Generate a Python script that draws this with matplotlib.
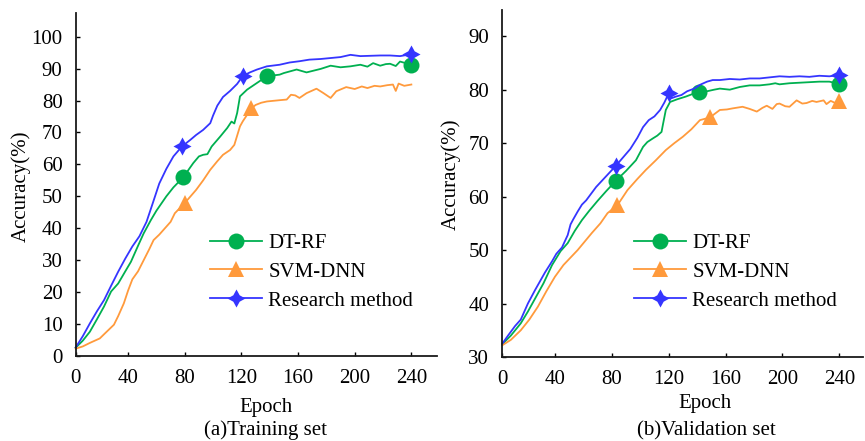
import matplotlib

matplotlib.use("Agg")
import matplotlib.pyplot as plt

plt.rcParams["font.family"] = ["Liberation Serif", "DejaVu Serif"]
plt.rcParams["font.size"] = 15

GREEN = "#00B050"
ORANGE = "#FF9A3C"
BLUE = "#3535FF"

SERIES_NAMES = ["DT-RF", "SVM-DNN", "Research method"]
X_TICK_LABELS = ["0", "40", "80", "120", "160", "200", "240"]

# (a) training set
TR_DTRF_EPOCH = [3, 8, 13, 18, 23, 28, 33, 38, 42, 47, 51, 56, 60, 67, 72, 79, 86, 90, 93, 96,
                 99, 105, 110, 113, 115, 117, 119, 124, 131, 138, 147, 150, 159, 166, 176, 183,
                 190, 197, 204, 209, 213, 218, 222, 225, 229, 232, 236, 240]
TR_DTRF_ACC = [2.6, 4.8, 7.6, 11.5, 15.5, 20.2, 22.7, 26.5, 29.5, 34.5, 38.4, 42.5, 45.5, 50.0,
               52.8, 56.0, 60.4, 62.5, 63.0, 63.2, 65.6, 68.7, 71.4, 73.4, 72.8, 76.1, 81.3, 83.4,
               85.5, 87.6, 88.1, 88.6, 89.7, 88.8, 89.9, 90.9, 90.4, 90.7, 91.2, 90.6, 91.7, 90.9,
               91.4, 91.5, 90.8, 92.2, 91.7, 91.2]
TR_DTRF_MARK = [79, 138, 240]

TR_SVM_EPOCH = [3, 8, 13, 20, 23, 30, 33, 37, 40, 43, 47, 51, 55, 58, 62, 65, 70, 73, 80, 88,
                93, 98, 103, 107, 112, 115, 117, 119, 121, 124, 127, 130, 134, 138, 147, 152,
                155, 158, 161, 166, 173, 178, 183, 187, 194, 200, 205, 209, 214, 218, 223, 227,
                229, 231, 235, 240]
TR_SVM_ACC = [2.3, 3.0, 4.1, 5.5, 6.8, 9.8, 12.5, 16.5, 20.5, 24.0, 26.5, 30.0, 33.5, 36.3, 38.0,
              39.5, 42.0, 44.7, 47.9, 52.0, 55.0, 58.3, 61.0, 63.0, 64.5, 66.1, 69.0, 71.9, 73.5,
              75.5, 77.5, 78.6, 79.3, 79.7, 80.1, 80.3, 81.8, 81.6, 80.8, 82.3, 83.7, 82.3, 80.8,
              82.9, 84.2, 83.6, 84.4, 83.9, 84.6, 84.4, 84.8, 85.0, 83.0, 85.3, 84.6, 85.0]
TR_SVM_MARK = [80, 127]

TR_RM_EPOCH = [3, 8, 13, 18, 23, 28, 33, 38, 43, 48, 53, 57, 62, 67, 72, 78, 84, 88, 93, 98,
               100, 103, 107, 112, 117, 121, 126, 131, 138, 147, 154, 161, 168, 176, 183, 190,
               197, 204, 211, 218, 225, 232, 240]
TR_RM_ACC = [2.7, 6.2, 10.2, 14.0, 17.5, 22.0, 26.4, 30.5, 34.3, 37.5, 42.0, 47.3, 54.0, 58.6,
             62.5, 65.6, 67.7, 69.2, 70.8, 72.9, 75.3, 78.4, 81.1, 83.0, 85.2, 87.7, 88.8, 89.7,
             90.7, 91.2, 91.9, 92.3, 92.8, 93.0, 93.3, 93.6, 94.3, 93.9, 94.0, 94.1, 94.1, 93.9,
             94.5]
TR_RM_MARK = [78, 121, 240]

# (b) validation set
VA_DTRF_EPOCH = [3, 9, 16, 21, 26, 32, 38, 44, 49, 54, 59, 64, 70, 76, 83, 90, 97, 102, 105, 109,
                 112, 115, 116, 118, 121, 126, 132, 141, 147, 152, 156, 163, 170, 177, 184, 191,
                 195, 198, 205, 212, 219, 226, 233, 240]
VA_DTRF_ACC = [32.4, 34.0, 36.3, 38.5, 40.9, 43.8, 47.2, 49.8, 51.3, 53.6, 55.6, 57.3, 59.2, 61.0,
               63.0, 64.8, 66.8, 69.3, 70.2, 70.9, 71.4, 72.1, 73.5, 76.2, 77.7, 78.2, 78.7, 79.6,
               79.7, 80.0, 80.2, 80.0, 80.5, 80.8, 80.8, 81.0, 81.2, 81.0, 81.2, 81.3, 81.4, 81.5,
               81.5, 81.1]
VA_DTRF_MARK = [83, 141, 240]

VA_SVM_EPOCH = [3, 9, 16, 22, 28, 34, 40, 46, 51, 56, 61, 66, 72, 77, 84, 91, 98, 104, 111, 118,
                124, 130, 136, 142, 149, 153, 156, 161, 165, 172, 177, 182, 186, 189, 193, 196,
                198, 202, 205, 210, 214, 217, 221, 224, 229, 231, 234, 238, 240]
VA_SVM_ACC = [32.2, 33.2, 35.0, 37.0, 39.4, 42.3, 45.0, 47.2, 48.6, 50.0, 51.6, 53.2, 55.0, 56.9,
              58.4, 61.2, 63.3, 65.0, 66.8, 68.7, 70.0, 71.2, 72.6, 74.3, 74.8, 75.6, 76.2, 76.3,
              76.5, 76.8, 76.4, 75.9, 76.6, 77.0, 76.4, 77.3, 77.4, 76.9, 76.8, 78.0, 77.4, 77.5,
              77.9, 77.7, 78.0, 77.3, 77.9, 77.4, 77.8]
VA_SVM_MARK = [84, 149, 240]

VA_RM_EPOCH = [3, 7, 12, 16, 21, 26, 33, 38, 41, 45, 49, 51, 53, 56, 59, 62, 69, 76, 83, 93,
               98, 102, 106, 110, 114, 117, 120, 122, 125, 129, 133, 138, 142, 147, 151, 156,
               163, 170, 177, 184, 191, 198, 205, 212, 219, 226, 233, 240]
VA_RM_ACC = [32.5, 34.0, 35.8, 37.0, 40.0, 42.5, 45.8, 47.9, 49.3, 50.5, 52.8, 54.8, 55.8, 57.2,
             58.5, 59.3, 61.8, 63.8, 65.8, 68.9, 71.0, 73.0, 74.3, 75.0, 76.2, 77.6, 79.3, 78.4,
             78.7, 79.0, 79.7, 80.2, 80.9, 81.5, 81.8, 81.8, 82.0, 81.9, 82.1, 82.1, 82.3, 82.5,
             82.4, 82.5, 82.4, 82.6, 82.5, 82.7]
VA_RM_MARK = [83, 120, 240]

W, H = 865, 441


def fx(px):
    return px / W


def fy(py):
    return 1 - py / H


def draw_panel(ax, data, xlim, ylim, yticks, legend_xy):
    styles = [
        dict(color=GREEN, marker="o", markersize=11.5),
        dict(color=ORANGE, marker="^", markersize=12),
        dict(color=BLUE, marker=(4, 1, 0), markersize=13),
    ]
    for name, (ep, acc, marks), st in zip(SERIES_NAMES, data, styles):
        idx = [ep.index(m) for m in marks]
        ax.plot(ep, acc, lw=1.3, markevery=idx, markeredgewidth=0, label=name,
                clip_on=False, **st)
    ax.set_xlim(*xlim)
    ax.set_ylim(*ylim)
    ax.set_xticks([xlim[0], 40, 80, 120, 160, 200, 240])
    ax.set_xticklabels(X_TICK_LABELS)
    ax.set_yticks(yticks)
    for s in ("top", "right"):
        ax.spines[s].set_visible(False)
    for s in ("left", "bottom"):
        ax.spines[s].set_linewidth(1.3)
        ax.spines[s].set_color("#1a1a1a")
    ax.tick_params(direction="in", length=3, width=1, pad=9.5, labelsize=15)
    ax.legend(loc="center left", bbox_to_anchor=legend_xy, frameon=False,
              handlelength=2.5, handletextpad=0.3, labelspacing=0.45,
              borderpad=0, borderaxespad=0, numpoints=1, fontsize=15)


fig = plt.figure(figsize=(W / 100, H / 100), dpi=100)

ax1 = fig.add_axes([fx(75.7), fy(356), fx(436.7 - 75.7), (356 - 13) / H])
draw_panel(ax1,
           [(TR_DTRF_EPOCH, TR_DTRF_ACC, TR_DTRF_MARK),
            (TR_SVM_EPOCH, TR_SVM_ACC, TR_SVM_MARK),
            (TR_RM_EPOCH, TR_RM_ACC, TR_RM_MARK)],
           (3, 257.9), (0, 107.4), range(0, 101, 10), (0.372, 0.245))

ax2 = fig.add_axes([fx(502.3), fy(357), fx(863 - 502.3), (357 - 10) / H])
draw_panel(ax2,
           [(VA_DTRF_EPOCH, VA_DTRF_ACC, VA_DTRF_MARK),
            (VA_SVM_EPOCH, VA_SVM_ACC, VA_SVM_MARK),
            (VA_RM_EPOCH, VA_RM_ACC, VA_RM_MARK)],
           (3, 256.7), (30, 94.9), range(30, 91, 10), (0.365, 0.245))

fig.text(fx(265.5), fy(411.7), "Epoch", ha="center", va="baseline", fontsize=15)
fig.text(fx(265.5), fy(435), "(a)Training set", ha="center", va="baseline", fontsize=15)
fig.text(fx(705), fy(408.3), "Epoch", ha="center", va="baseline", fontsize=15)
fig.text(fx(706.7), fy(435), "(b)Validation set", ha="center", va="baseline", fontsize=15)
fig.text(fx(20.5), fy(186.7), "Accuracy(%)", rotation=90, ha="center", va="center", fontsize=15)
fig.text(fx(450.5), fy(174.2), "Accuracy(%)", rotation=90, ha="center", va="center", fontsize=15)

fig.savefig("out.png", dpi=100)
